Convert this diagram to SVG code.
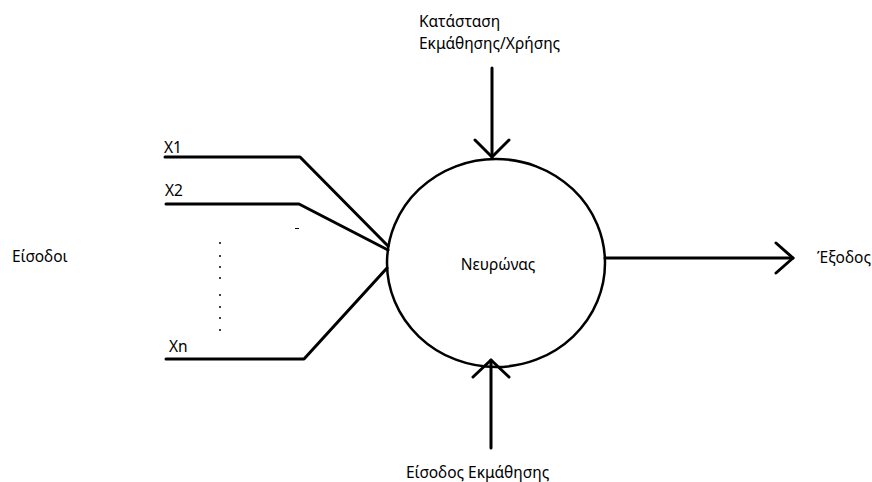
<svg xmlns="http://www.w3.org/2000/svg" width="872" height="482" viewBox="0 0 872 482">
<style>
text{font-family:"Noto Sans","Open Sans","DejaVu Sans",sans-serif;font-size:15.5px;fill:#000}
.ln{stroke:#000;stroke-width:3;fill:none;stroke-linecap:round;stroke-linejoin:round}
</style>
<rect width="872" height="482" fill="#fff"/>
<g id="neuron">
<ellipse cx="496" cy="263" rx="109" ry="104" fill="none" stroke="#000" stroke-width="2.5"/>
<text x="498" y="270" text-anchor="middle">Νευρώνας</text>
</g>
<g id="inputs">
<text x="12" y="262">Είσοδοι</text>
<text x="164" y="153">X1</text>
<text x="165" y="196">X2</text>
<text x="169" y="352">Xn</text>
<g fill="#000">
<circle cx="220" cy="243" r="1"/><circle cx="220" cy="256" r="1"/><circle cx="220" cy="267" r="1"/><circle cx="220" cy="278" r="1"/>
<circle cx="220" cy="295" r="1"/><circle cx="220" cy="307" r="1"/><circle cx="220" cy="318" r="1"/><circle cx="220" cy="330" r="1"/>
</g>
<line x1="295" y1="228.5" x2="299" y2="228.5" stroke="#000" stroke-width="1"/>
</g>
<g id="mode">
<text x="419" y="27">Κατάσταση</text>
<text x="419" y="49">Εκμάθησης/Χρήσης</text>
</g>
<g id="learning">
<text x="406" y="478">Είσοδος Εκμάθησης</text>
</g>
<g id="output">
<text x="817" y="263">Έξοδος</text>
</g>
<g id="connectors" class="ln">
<polyline class="ln" points="165,157 300,157 388,246"/>
<polyline class="ln" points="166,204 299,204 388,250"/>
<polyline class="ln" points="166,359 304,359 387,268"/>
<line class="ln" x1="492" y1="68" x2="492" y2="157"/>
<polyline class="ln" points="475,140 492,157 509,140"/>
<line class="ln" x1="491" y1="448" x2="491" y2="360"/>
<polyline class="ln" points="473,377 491,360 509,377"/>
<line class="ln" x1="605" y1="258" x2="793" y2="258"/>
<polyline class="ln" points="776,243 793,258 776,273"/>
</g>
</svg>
